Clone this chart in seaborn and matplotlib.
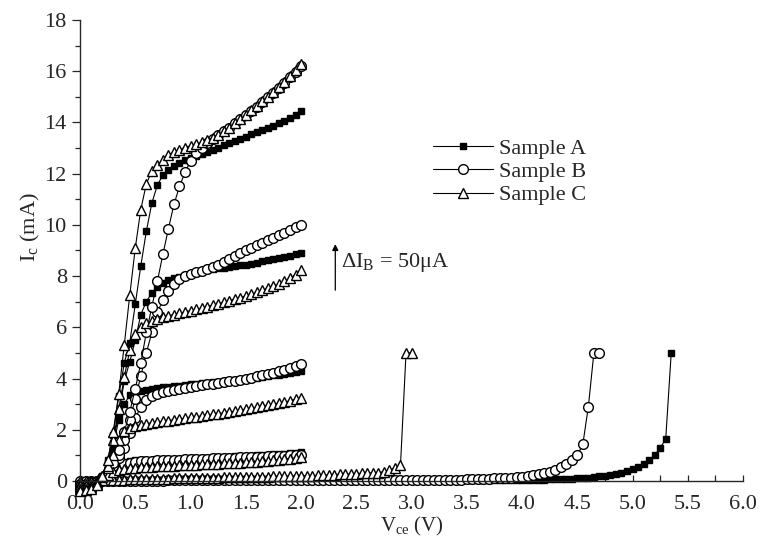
'''
I-V output curves (Ic vs Vce) for three transistor samples
'''

import pandas as pd
import seaborn as sns
import matplotlib.pyplot as plt
from matplotlib.lines import Line2D
from matplotlib.ticker import MultipleLocator

# Vce sweep (V), 0.05 V steps up to 5.35 V
V_SWEEP = [0.00, 0.05, 0.10, 0.15, 0.20, 0.25, 0.30, 0.35, 0.40, 0.45,
           0.50, 0.55, 0.60, 0.65, 0.70, 0.75, 0.80, 0.85, 0.90, 0.95,
           1.00, 1.05, 1.10, 1.15, 1.20, 1.25, 1.30, 1.35, 1.40, 1.45,
           1.50, 1.55, 1.60, 1.65, 1.70, 1.75, 1.80, 1.85, 1.90, 1.95,
           2.00, 2.05, 2.10, 2.15, 2.20, 2.25, 2.30, 2.35, 2.40, 2.45,
           2.50, 2.55, 2.60, 2.65, 2.70, 2.75, 2.80, 2.85, 2.90, 2.95,
           3.00, 3.05, 3.10, 3.15, 3.20, 3.25, 3.30, 3.35, 3.40, 3.45,
           3.50, 3.55, 3.60, 3.65, 3.70, 3.75, 3.80, 3.85, 3.90, 3.95,
           4.00, 4.05, 4.10, 4.15, 4.20, 4.25, 4.30, 4.35, 4.40, 4.45,
           4.50, 4.55, 4.60, 4.65, 4.70, 4.75, 4.80, 4.85, 4.90, 4.95,
           5.00, 5.05, 5.10, 5.15, 5.20, 5.25, 5.30, 5.35]

# Sample A (Ic in mA), one list per base current step
A_1 = [0.0, 0.0, 0.0, 0.0, 0.01, 0.01, 0.01, 0.01, 0.01, 0.01,
       0.01, 0.01, 0.01, 0.01, 0.02, 0.02, 0.02, 0.02, 0.02, 0.02,
       0.02, 0.02, 0.02, 0.02, 0.02, 0.02, 0.02, 0.02, 0.03, 0.03,
       0.03, 0.03, 0.03, 0.03, 0.03, 0.03, 0.03, 0.03, 0.03, 0.03,
       0.03, 0.03, 0.03, 0.03, 0.03, 0.03, 0.03, 0.03, 0.03, 0.03,
       0.03, 0.03, 0.03, 0.03, 0.03, 0.03, 0.03, 0.03, 0.03, 0.03,
       0.03, 0.03, 0.03, 0.03, 0.03, 0.03, 0.04, 0.04, 0.04, 0.04,
       0.04, 0.04, 0.04, 0.04, 0.04, 0.04, 0.04, 0.04, 0.04, 0.04,
       0.04, 0.04, 0.05, 0.05, 0.05, 0.06, 0.07, 0.07, 0.08, 0.09,
       0.10, 0.12, 0.13, 0.15, 0.18, 0.20, 0.24, 0.28, 0.33, 0.38,
       0.45, 0.53, 0.67, 0.80, 1.00, 1.30, 1.63, 5.00]
A_2 = [-0.1, -0.1, -0.05, 0.0, 0.1, 0.4, 0.6, 0.7, 0.75, 0.78,
       0.8, 0.81, 0.82, 0.83, 0.84, 0.85, 0.86, 0.86, 0.87, 0.88,
       0.89, 0.9, 0.9, 0.91, 0.92, 0.93, 0.94, 0.95, 0.96, 0.97,
       0.98, 0.99, 1.0, 1.01, 1.02, 1.04, 1.05, 1.07, 1.09, 1.11, 1.13]
A_3 = [-0.2, -0.2, -0.15, -0.05, 0.15, 0.6, 1.3, 2.4, 3.0, 3.35,
       3.45, 3.52, 3.56, 3.6, 3.63, 3.66, 3.68, 3.7, 3.72, 3.74,
       3.77, 3.79, 3.81, 3.83, 3.85, 3.87, 3.89, 3.91, 3.93, 3.95,
       3.98, 4.0, 4.03, 4.06, 4.09, 4.12, 4.15, 4.18, 4.21, 4.24, 4.28]
A_4 = [-0.3, -0.3, -0.25, -0.1, 0.2, 0.7, 1.5, 2.6, 3.9, 4.65,
       5.5, 6.5, 7.0, 7.35, 7.58, 7.72, 7.83, 7.91, 7.98, 8.04,
       8.1, 8.14, 8.18, 8.22, 8.26, 8.3, 8.33, 8.36, 8.39, 8.42,
       8.45, 8.49, 8.53, 8.57, 8.61, 8.65, 8.7, 8.74, 8.79, 8.85, 8.92]
A_5 = [-0.4, -0.35, -0.3, -0.15, 0.2, 0.8, 1.8, 3.3, 4.6, 5.4,
       6.9, 8.4, 9.75, 10.85, 11.55, 11.95, 12.15, 12.3, 12.42, 12.52,
       12.62, 12.7, 12.78, 12.86, 12.94, 13.02, 13.1, 13.18, 13.26, 13.34,
       13.45, 13.54, 13.62, 13.7, 13.78, 13.87, 13.96, 14.06, 14.17, 14.3, 14.44]

# Sample B
B_1 = [0.0, 0.0, 0.0, 0.0, 0.01, 0.01, 0.01, 0.01, 0.01, 0.01,
       0.01, 0.01, 0.01, 0.01, 0.01, 0.01, 0.02, 0.02, 0.02, 0.02,
       0.02, 0.02, 0.02, 0.02, 0.02, 0.02, 0.02, 0.02, 0.02, 0.02,
       0.02, 0.02, 0.03, 0.03, 0.03, 0.03, 0.03, 0.03, 0.03, 0.03,
       0.03, 0.03, 0.03, 0.03, 0.03, 0.03, 0.03, 0.03, 0.03, 0.03,
       0.03, 0.03, 0.03, 0.03, 0.04, 0.04, 0.04, 0.04, 0.04, 0.04,
       0.04, 0.04, 0.04, 0.04, 0.05, 0.05, 0.05, 0.05, 0.05, 0.05,
       0.06, 0.06, 0.07, 0.08, 0.09, 0.10, 0.11, 0.12, 0.13, 0.15,
       0.16, 0.19, 0.22, 0.26, 0.30, 0.36, 0.43, 0.53, 0.66, 0.80,
       1.00, 1.43, 2.90, 5.00, 5.00]
B_2 = [-0.1, -0.1, -0.05, 0.0, 0.1, 0.3, 0.5, 0.62, 0.68, 0.72,
       0.75, 0.77, 0.78, 0.79, 0.8, 0.81, 0.82, 0.83, 0.83, 0.84,
       0.85, 0.86, 0.86, 0.87, 0.88, 0.88, 0.89, 0.9, 0.91, 0.92,
       0.93, 0.93, 0.94, 0.95, 0.96, 0.97, 0.98, 0.99, 1.0, 1.01, 1.02]
B_3 = [-0.2, -0.2, -0.15, -0.05, 0.1, 0.3, 0.6, 0.9, 1.28, 1.86,
       2.45, 2.9, 3.15, 3.3, 3.4, 3.46, 3.5, 3.54, 3.58, 3.62,
       3.66, 3.7, 3.74, 3.77, 3.8, 3.83, 3.86, 3.89, 3.92, 3.96,
       4.0, 4.04, 4.08, 4.13, 4.18, 4.23, 4.28, 4.34, 4.4, 4.47, 4.56]
B_4 = [-0.3, -0.3, -0.25, -0.1, 0.1, 0.3, 0.6, 1.0, 1.6, 2.4,
       3.2, 4.1, 5.0, 5.8, 6.6, 7.05, 7.4, 7.7, 7.88, 8.0,
       8.1, 8.15, 8.2, 8.27, 8.35, 8.45, 8.55, 8.66, 8.78, 8.89,
       9.0, 9.1, 9.2, 9.3, 9.4, 9.5, 9.6, 9.7, 9.8, 9.9, 10.0]
B_5 = [-0.4, -0.35, -0.3, -0.15, 0.1, 0.3, 0.7, 1.2, 1.9, 2.7,
       3.6, 4.6, 5.8, 6.8, 7.8, 8.85, 9.85, 10.8, 11.5, 12.05,
       12.5, 12.8, 13.0, 13.18, 13.35, 13.5, 13.65, 13.8, 13.96, 14.12,
       14.28, 14.45, 14.62, 14.8, 14.98, 15.16, 15.35, 15.55, 15.76, 15.98, 16.2]

# Sample C
C_1 = [0.0, 0.0, 0.0, 0.0, 0.02, 0.03, 0.04, 0.05, 0.05, 0.06,
       0.06, 0.07, 0.07, 0.08, 0.08, 0.09, 0.09, 0.1, 0.1, 0.1,
       0.11, 0.11, 0.12, 0.12, 0.13, 0.13, 0.14, 0.14, 0.15, 0.15,
       0.15, 0.16, 0.16, 0.17, 0.17, 0.18, 0.18, 0.18, 0.19, 0.19,
       0.2, 0.2, 0.21, 0.22, 0.23, 0.24, 0.25, 0.26, 0.27, 0.28,
       0.29, 0.3, 0.31, 0.32, 0.33, 0.36, 0.42, 0.51, 0.61, 5.0, 5.0]
C_2 = [-0.1, -0.1, -0.05, 0.0, 0.05, 0.25, 0.35, 0.42, 0.47, 0.5,
       0.52, 0.54, 0.55, 0.56, 0.57, 0.58, 0.59, 0.6, 0.61, 0.62,
       0.63, 0.64, 0.65, 0.66, 0.67, 0.68, 0.69, 0.7, 0.71, 0.72,
       0.73, 0.74, 0.75, 0.77, 0.79, 0.81, 0.83, 0.85, 0.87, 0.9, 0.93]
C_3 = [-0.2, -0.2, -0.15, -0.05, 0.15, 0.5, 1.0, 1.6, 1.95, 2.05,
       2.15, 2.2, 2.24, 2.27, 2.3, 2.33, 2.36, 2.39, 2.42, 2.45,
       2.48, 2.51, 2.54, 2.57, 2.6, 2.63, 2.66, 2.69, 2.72, 2.76,
       2.8, 2.84, 2.88, 2.92, 2.96, 3.0, 3.04, 3.08, 3.13, 3.19, 3.25]
C_4 = [-0.3, -0.3, -0.25, -0.1, 0.2, 0.6, 1.6, 2.8, 4.05, 5.1,
       5.75, 6.0, 6.15, 6.25, 6.33, 6.4, 6.45, 6.5, 6.55, 6.6,
       6.65, 6.7, 6.75, 6.8, 6.86, 6.92, 6.98, 7.04, 7.1, 7.16,
       7.22, 7.29, 7.36, 7.44, 7.52, 7.6, 7.7, 7.8, 7.92, 8.06, 8.22]
C_5 = [-0.4, -0.35, -0.3, -0.15, 0.2, 0.8, 1.9, 3.4, 5.3, 7.25,
       9.1, 10.6, 11.6, 12.1, 12.33, 12.55, 12.72, 12.85, 12.94, 13.02,
       13.08, 13.15, 13.22, 13.3, 13.4, 13.52, 13.65, 13.8, 13.96, 14.12,
       14.3, 14.47, 14.64, 14.82, 15.0, 15.18, 15.38, 15.58, 15.8, 16.03, 16.3]

SAMPLES = {
    'Sample A': [A_1, A_2, A_3, A_4, A_5],
    'Sample B': [B_1, B_2, B_3, B_4, B_5],
    'Sample C': [C_1, C_2, C_3, C_4, C_5],
}
MARKERS = {
    'Sample A': dict(marker='s', markersize=3.8, markerfacecolor='black'),
    'Sample B': dict(marker='o', markersize=7.0, markerfacecolor='white'),
    'Sample C': dict(marker='^', markersize=7.4, markerfacecolor='white'),
}


def to_frame(curves):
    rows = []
    for k, ic in enumerate(curves):
        for v, i in zip(V_SWEEP, ic):
            rows.append({'V': v, 'I': i, 'curve': k})
    return pd.DataFrame(rows)


sns.set_style('ticks')
plt.rcParams['font.family'] = ['Liberation Serif', 'DejaVu Serif']
plt.rcParams['mathtext.fontset'] = 'custom'
plt.rcParams['mathtext.rm'] = 'Liberation Serif'
plt.rcParams['mathtext.it'] = 'Liberation Serif:italic'

fig = plt.figure(figsize=(7.6, 5.49), dpi=100)
ax = fig.add_axes([0.1053, 0.1239, 0.8724, 0.8397])

handles = []
for name, curves in SAMPLES.items():
    df = to_frame(curves)
    sns.lineplot(data=df, x='V', y='I', units='curve', estimator=None,
                 sort=False, color='black', lw=0.8, markeredgecolor='black',
                 markeredgewidth=1.0, clip_on=False, legend=False, ax=ax,
                 **MARKERS[name])
    handles.append(Line2D([], [], color='black', lw=0.8, markeredgecolor='black',
                          markeredgewidth=1.0, label=name, **MARKERS[name]))

ax.set_xlim(0, 6)
ax.set_ylim(0, 18)
ax.xaxis.set_major_locator(MultipleLocator(0.5))
ax.xaxis.set_minor_locator(MultipleLocator(0.25))
ax.yaxis.set_major_locator(MultipleLocator(2))
ax.yaxis.set_minor_locator(MultipleLocator(1))
ax.xaxis.set_major_formatter(plt.FuncFormatter(lambda v, p: f'{v:.1f}'))
ax.tick_params(axis='x', which='major', direction='in', length=4, width=0.9, labelsize=16, pad=10)
ax.tick_params(axis='x', which='minor', direction='in', length=4, width=0.9)
ax.tick_params(axis='y', which='major', direction='out', length=6, width=0.9, labelsize=16)
ax.tick_params(axis='y', which='minor', direction='out', length=3.5, width=0.9)
sns.despine(ax=ax)
for s in ('left', 'bottom'):
    ax.spines[s].set_linewidth(1.0)

ax.set_xlabel('V$_{\\mathrm{ce}}$ (V)', fontsize=15, labelpad=1)
ax.set_ylabel('I$_{\\mathrm{c}}$ (mA)', fontsize=16)
ax.yaxis.set_label_coords(-0.057, 0.55)

ax.legend(handles=handles, loc='upper left', bbox_to_anchor=(0.5555, 0.768),
          bbox_transform=fig.transFigure, frameon=False, fontsize=16,
          handlelength=2.7, handletextpad=0.25, labelspacing=0.12, borderpad=0)

ax.annotate('', xy=(2.31, 9.25), xytext=(2.31, 7.45),
            arrowprops=dict(arrowstyle='-|>', color='black', lw=0.9,
                            mutation_scale=9, shrinkA=0, shrinkB=0))
ax.text(2.36, 8.35, '$\\Delta$I$_{\\mathrm{B}}$ = 50\u03bcA', fontsize=16, va='baseline')

fig.savefig('out.png', dpi=100)
